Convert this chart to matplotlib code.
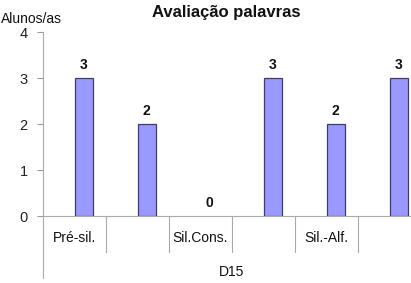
import matplotlib.pyplot as plt
import matplotlib.transforms as mtransforms

plt.rcParams['font.family'] = ['Liberation Sans', 'DejaVu Sans']

categories = ["Pré-sil.", "", "Sil.Cons.", "", "Sil.-Alf.", ""]
values = [3, 2, 0, 3, 2, 3]
group_label = "D15"
yticks = [0, 1, 2, 3, 4]

fig = plt.figure(figsize=(4.11, 2.83), dpi=100)
# plot area runs past the right edge, as in the cropped original
ax = fig.add_axes([43 / 411, 67 / 283, 378 / 411, 184 / 283])

xs = list(range(len(values)))
bar_w = 0.29
ax.bar([x + bar_w / 2 for x in xs], values, width=bar_w,
       color='#9999ff', edgecolor='#3c3c6e',
       linewidth=[0.9 if v else 0 for v in values], zorder=3)

for x, v in zip(xs, values):
    ax.text(x + bar_w / 2, v + 0.12, str(v), ha='center', va='bottom',
            fontsize=10, fontweight='bold', color='#111111')

ax.set_xlim(-0.5, len(values) - 0.5)
ax.set_ylim(0, 4)
ax.set_yticks(yticks)
ax.set_xticks([])
ax.tick_params(axis='y', length=4, color='#999999', labelsize=10.5, pad=7,
               labelcolor='#222222')

for s in ['top', 'right']:
    ax.spines[s].set_visible(False)
ax.spines['left'].set_color('#aaaaaa')
ax.spines['bottom'].set_color('#aaaaaa')
ax.spines['left'].set_bounds(0, 4)

trans = mtransforms.blended_transform_factory(ax.transData, ax.transAxes)
# category separators under the axis
for i in range(1, len(values) + 1):
    ax.plot([i - 0.5, i - 0.5], [0, -0.196], transform=trans, color='#aaaaaa',
            linewidth=0.8, clip_on=False)
# left axis line extends down past the group label row
ax.plot([-0.5, -0.5], [0, -0.337], transform=trans, color='#aaaaaa',
        linewidth=0.8, clip_on=False)

for x, lab in zip(xs, categories):
    ax.text(x, -0.12, lab, transform=trans, ha='center', va='center',
            fontsize=10, color='#111111')
ax.text(len(values) / 2 - 0.5, -0.305, group_label, transform=trans,
        ha='center', va='center', fontsize=10, color='#111111')

fig.text(226 / 411, 1 - 13 / 283, "Avaliação palavras", ha='center', va='center',
         fontsize=12, fontweight='bold', color='#111111')
fig.text(1 / 411, 1 - 19 / 283, "Alunos/as", ha='left', va='center',
         fontsize=10, color='#111111')

fig.savefig("out.png", dpi=100)
